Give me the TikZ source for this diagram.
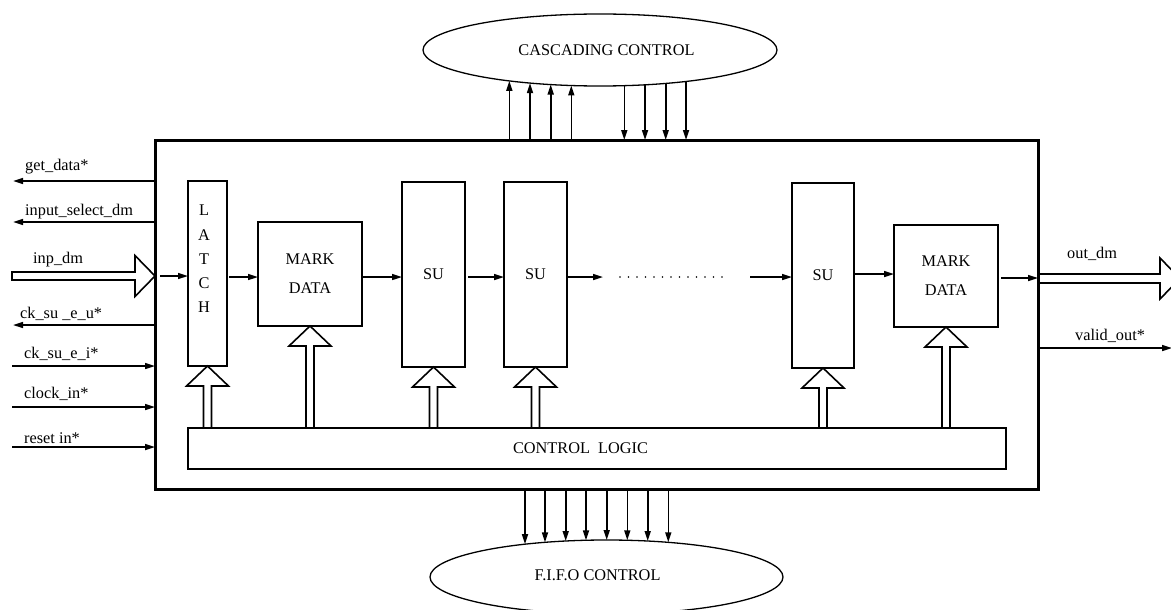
\documentclass[tikz,border=0pt]{standalone}
\usepackage{fontspec}
\setmainfont{Liberation Serif}
\usetikzlibrary{arrows.meta,shapes.geometric,calc}

% hollow bus arrow pointing up from the top of #2 to the bottom of #1
\newcommand\busup[2]{%
  \draw[bus] let \p1=(#1.south), \p2=(#2.north) in
    (\x1-4pt,\y2) -- (\x1-4pt,\y1-20pt) -- (\x1-21pt,\y1-20pt) -- (\x1,\y1)
    -- (\x1+21pt,\y1-20pt) -- (\x1+4pt,\y1-20pt) -- (\x1+4pt,\y2);}

\begin{document}
\begin{tikzpicture}[x=1pt,y=-1pt,
  every node/.style={font=\fontsize{16.3}{19}\selectfont},
  unit/.style={draw, line width=1.8pt, inner sep=0pt, outer sep=0pt},
  cloud/.style={draw, ellipse, line width=1.3pt, inner sep=0pt},
  sig/.style={line width=1.6pt, -{Triangle[length=10pt,width=6pt]}},
  bus/.style={line width=1.6pt, line join=miter},
  lbl/.style={anchor=base west, inner sep=0pt},
  txt/.style={inner sep=0pt, align=center},
]
\useasboundingbox (0,0) rectangle (1171,610);
\fill[white] (0,0) rectangle (1171,610);

% controller blocks outside the chip
\node[cloud, minimum width=354pt, minimum height=72pt] (casc) at (600,50) {};
\node[txt] (casctxt) at (606.5,50) {CASCADING CONTROL};
\node[cloud, minimum width=353pt, minimum height=74pt] (fifo) at (606.5,577) {};
\node[txt] (fifotxt) at (597.5,575) {F.I.F.O CONTROL};

% chip outline
\node[unit, line width=3pt, minimum width=883pt, minimum height=349pt] (main) at (596.5,314.5) {};

% internal pipeline
\node[unit, minimum width=39pt, minimum height=185pt] (latch) at (207.5,273.5) {};
\node[txt] (latchtxt) at (204,259) {L\\[5.3pt]A\\[5.3pt]T\\[5.3pt]C\\[5.3pt]H};
\node[unit, minimum width=104pt, minimum height=104pt, align=center] (md1) at (310,274) {MARK\\[10pt]DATA};
\node[unit, minimum width=63pt, minimum height=185pt] (su1) at (433.5,274.5) {SU};
\node[unit, minimum width=63pt, minimum height=185pt] (su2) at (535.5,274.5) {SU};
\node[unit, minimum width=62pt, minimum height=185pt] (su3) at (823,275.5) {SU};
\node[unit, minimum width=104pt, minimum height=102pt, align=center] (md2) at (946,276) {MARK\\[10pt]DATA};
\node[unit, minimum width=818pt, minimum height=41pt] (ctrl) at (597,448.5) {};
\node[txt] (ctrltxt) at (580.5,448) {CONTROL~~LOGIC};

% data path arrows
\coordinate (dl) at (620,277);
\coordinate (dr) at (724,277);
\coordinate (a1) at (603,277);
\coordinate (a2) at (750,277);
\draw[sig, shorten <=5pt] (main.west |- 0,276) -- (latch.west |- 0,276);
\draw[sig, shorten <=2pt] (latch.east |- 0,277) -- (md1.west |- 0,277);
\draw[sig] (md1.east |- 0,277) -- (su1.west |- 0,277);
\draw[sig, shorten <=3pt] (su1.east |- 0,277) -- (su2.west |- 0,277);
\draw[sig] (su2.east |- a1) -- (a1);
\draw[line width=1.9pt, line cap=round, dash pattern=on 0pt off 8.5pt] (dl) -- (dr);
\draw[sig] (a2) -- (su3.west |- a2);
\draw[sig] (su3.east |- 0,274) -- (md2.west |- 0,274);
\draw[sig, shorten <=3pt] (md2.east |- 0,278) -- (main.east |- 0,278);

% control buses
\busup{latch}{ctrl}
\busup{md1}{ctrl}
\busup{su1}{ctrl}
\busup{su2}{ctrl}
\busup{su3}{ctrl}
\busup{md2}{ctrl}

% input data bus
\coordinate (inptail) at (12,276);
\draw[bus] let \p1=(inptail), \p2=(main.west |- inptail) in
  (\x1,\y1+4pt) -- (\x2-20pt,\y1+4pt) -- (\x2-20pt,\y1+20.5pt) -- (\x2,\y1)
  -- (\x2-20pt,\y1-20.5pt) -- (\x2-20pt,\y1-4pt) -- (\x1,\y1-4pt) -- cycle;

% output data bus
\coordinate (outtip) at (1180,278.5);
\draw[bus] let \p1=(main.east |- outtip), \p2=(outtip) in
  (\x1,\y1+4.5pt) -- (\x2-20pt,\y1+4.5pt) -- (\x2-20pt,\y1+20.5pt) -- (\x2,\y1)
  -- (\x2-20pt,\y1-20.5pt) -- (\x2-20pt,\y1-4.5pt) -- (\x1,\y1-4.5pt);

% side signals
\coordinate (gd) at (13,181);
\coordinate (isd) at (13,222);
\coordinate (cku) at (13,325);
\coordinate (cki) at (12,366);
\coordinate (clk) at (12,407);
\coordinate (rst) at (12,447);
\coordinate (vo) at (1172,348);
\draw[sig] (main.west |- gd) -- (gd);
\draw[sig] (main.west |- isd) -- (isd);
\draw[sig] (main.west |- cku) -- (cku);
\draw[sig] (cki) -- (main.west |- cki);
\draw[sig] (clk) -- (main.west |- clk);
\draw[sig] (rst) -- (main.west |- rst);
\draw[sig] (main.east |- vo) -- (vo);

\node[lbl] (gdl) at (25,170) {get\_data*};
\node[lbl] (isdl) at (25,215) {input\_select\_dm};
\node[lbl] (inpl) at (33,263) {inp\_dm};
\node[lbl] (ckul) at (20,318) {ck\_su \_e\_u*};
\node[lbl] (ckil) at (24,358) {ck\_su\_e\_i*};
\node[lbl] (clkl) at (24,398) {clock\_in*};
\node[lbl] (rstl) at (24,443) {reset in*};
\node[lbl] (outl) at (1067,258) {out\_dm};
\node[lbl] (vall) at (1075,340) {valid\_out*};

% cascading control lines
\foreach \xx/\yy in {509.3/80.9, 530/83.1, 550.7/84.6, 571.3/85.5}
  \draw[sig] (\xx,0 |- main.north) -- (\xx,\yy);
\foreach \xx/\yy in {624.3/85.7, 645/84.8, 665.7/83.5, 686/81.5}
  \draw[sig] (\xx,\yy) -- (\xx,0 |- main.north);

% fifo control lines
\foreach \xx/\yy in {525/544.2, 545/542.3, 565.7/541.0, 586/540.3, 606.7/540.0, 627.3/540.3, 647.7/541.0, 668.3/542.3}
  \draw[sig] (\xx,0 |- main.south) -- (\xx,\yy);
\end{tikzpicture}
\end{document}
